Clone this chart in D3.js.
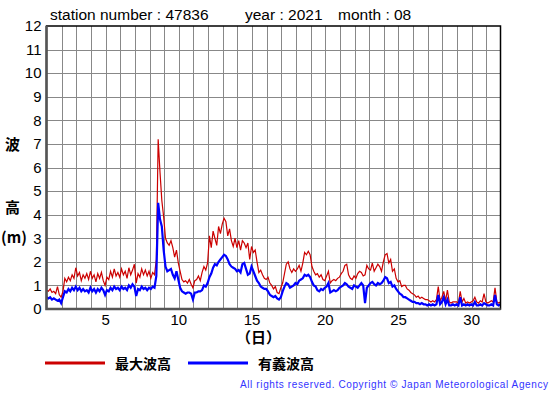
<!DOCTYPE html>
<html>
<head>
<meta charset="utf-8">
<script src="https://cdn.jsdelivr.net/npm/d3@7"></script>
<style>
  body { margin: 0; background: #fff; }
  text { font-family: 'Liberation Sans', Arial, sans-serif; }
  .jp { font-family: 'Noto Sans CJK JP', sans-serif; font-weight: bold; }
  .grid line { stroke: #888; stroke-width: 1; shape-rendering: crispEdges; }
  .axis path, .axis line { display: none; }
  .axis text { font-size: 15px; fill: #000; }
</style>
</head>
<body>
<div id="chart"></div>
<script>
// 3-hourly values, 8 per day, from day 1 00h to day 32 00h
let maxWave = [
  0.8, 0.75, 0.85, 0.7, 0.75, 0.65, 0.95, 0.6,
  0.5, 0.75, 1.3, 1.15, 1.35, 1.2, 1.45, 1.3,
  1.75, 1.4, 1.55, 1.2, 1.45, 1.3, 1.5, 1.25,
  1.6, 1.3, 1.45, 1.15, 1.5, 1.3, 1.55, 1.2,
  1.0, 1.35, 1.25, 1.6, 1.35, 1.7, 1.4, 1.55,
  1.35, 1.7, 1.45, 1.6, 1.3, 1.75, 1.45, 1.65,
  1.9, 1.1, 1.5, 1.35, 1.7, 1.45, 1.65, 1.4,
  1.6, 1.3, 1.55, 1.45, 2.1, 7.2, 5.8, 4.6,
  3.9, 3.0, 2.8, 2.7, 2.9, 2.6, 2.2, 2.5,
  1.95, 1.6, 1.25, 1.15, 1.2, 1.1, 1.25, 1.05,
  0.9, 1.2, 1.25, 1.4, 1.2, 1.55, 1.8, 1.65,
  1.95, 3.1, 2.6, 3.3, 3.0, 2.7, 3.5, 3.2,
  3.6, 3.85, 3.7, 3.1, 3.4, 2.9, 2.65, 3.0,
  2.6, 2.9, 2.5, 2.9, 2.8, 2.6, 2.8, 2.1,
  2.65, 2.4, 2.5, 2.0, 1.55, 1.65, 1.45, 1.3,
  1.25, 1.35, 1.1, 1.0, 0.85, 0.95, 0.7, 0.65,
  0.9, 1.1, 1.5, 1.9, 2.0, 1.7, 1.55, 1.7,
  1.6, 1.7, 1.85, 1.6, 1.95, 2.4, 2.3, 2.45,
  2.3, 1.8, 1.6, 1.45, 1.5, 1.35, 1.45, 1.25,
  1.2, 1.4, 1.6, 1.1, 1.2, 1.25, 1.2, 1.3,
  1.35, 1.5, 1.6, 1.85, 1.9, 1.45, 1.3, 1.25,
  1.4, 1.3, 1.5, 1.6, 1.55, 1.4, 1.45, 1.85,
  1.7, 1.65, 1.95, 1.6, 1.75, 1.9, 1.8, 1.6,
  2.0, 2.3, 2.35, 1.95, 2.1, 1.6, 1.7, 1.3,
  1.15, 1.2, 0.95, 1.0, 1.0, 0.85, 0.8, 0.7,
  0.65, 0.6, 0.5, 0.55, 0.45, 0.5, 0.45, 0.4,
  0.4, 0.35, 0.3, 0.35, 0.3, 0.4, 0.95, 0.35,
  0.5, 0.75, 0.35, 0.8, 0.3, 0.25, 0.3, 0.3,
  0.3, 0.25, 0.75, 0.3, 0.45, 0.25, 0.3, 0.25,
  0.3, 0.35, 0.5, 0.3, 0.25, 0.35, 0.3, 0.65,
  0.3, 0.25, 0.3, 0.35, 0.3, 0.9, 0.3, 0.25,
  0.3
]

let sigWave = [
  0.5, 0.45, 0.5, 0.4, 0.45, 0.4, 0.35, 0.4,
  0.25, 0.5, 0.75, 0.7, 0.85, 0.75, 0.9, 0.8,
  0.95, 0.8, 0.9, 0.75, 0.85, 0.75, 0.8, 0.7,
  0.9, 0.75, 0.85, 0.7, 0.85, 0.75, 0.9, 0.8,
  0.6, 0.8, 0.75, 0.9, 0.8, 0.95, 0.85, 0.9,
  0.8, 0.95, 0.85, 0.9, 0.8, 1.0, 0.9, 1.05,
  0.95, 0.55, 0.85, 0.8, 0.95, 0.85, 0.9, 0.8,
  0.9, 0.85, 0.95, 0.9, 1.4, 4.5, 3.8, 3.5,
  2.5, 1.8, 1.6, 1.65, 1.7, 1.45, 1.3, 1.6,
  1.25, 0.9, 0.75, 0.7, 0.65, 0.7, 0.7, 0.65,
  0.4, 0.7, 0.7, 0.75, 0.75, 0.8, 1.0, 0.95,
  1.1, 1.35, 1.5, 1.75, 1.9, 1.85, 2.0, 2.1,
  2.2, 2.3, 2.25, 2.1, 1.9, 1.8, 1.75, 1.7,
  1.6, 1.65, 1.55, 1.9, 1.95, 1.7, 1.45, 1.5,
  1.8, 1.6, 1.4, 1.2, 1.1, 0.95, 0.9, 0.85,
  0.85, 0.75, 0.6, 0.55, 0.5, 0.55, 0.45, 0.4,
  0.5, 0.75, 0.95, 1.1, 1.05, 0.9, 0.95, 1.0,
  1.1, 1.05, 1.2, 1.25, 1.3, 1.45, 1.4, 1.45,
  1.35, 1.15, 1.0, 0.95, 0.8, 0.75, 0.85, 0.8,
  0.9, 0.95, 1.1, 0.7, 0.75, 0.8, 0.75, 0.8,
  0.9, 0.95, 1.0, 1.1, 1.05, 0.95, 0.9, 0.85,
  1.0, 0.95, 0.9, 1.0, 1.1, 1.0, 0.25, 0.9,
  1.0, 1.1, 1.15, 1.05, 1.0, 1.1, 1.05, 1.1,
  1.2, 1.35, 1.3, 1.1, 1.15, 0.95, 1.0, 0.85,
  0.75, 0.65, 0.6, 0.5, 0.5, 0.45, 0.4, 0.35,
  0.3, 0.3, 0.25, 0.25, 0.2, 0.25, 0.2, 0.2,
  0.15, 0.2, 0.15, 0.2, 0.15, 0.2, 0.6, 0.2,
  0.3, 0.5, 0.2, 0.4, 0.15, 0.15, 0.2, 0.15,
  0.2, 0.15, 0.5, 0.15, 0.2, 0.15, 0.2, 0.15,
  0.2, 0.15, 0.3, 0.15, 0.15, 0.2, 0.15, 0.25,
  0.2, 0.15, 0.15, 0.2, 0.15, 0.6, 0.2, 0.15,
  0.2
]

let xTicks = [5, 10, 15, 20, 25, 30]
let yTicks = [0, 1, 2, 3, 4, 5, 6, 7, 8, 9, 10, 11, 12]
let seriesNames = ['最大波高', '有義波高']
let titleParts = ['station number : 47836', 'year : 2021', 'month : 08']

var margin = { top: 26, left: 46.5, right: 54.5, bottom: 86 }
var width = 555 - margin.left - margin.right
var height = 395 - margin.top - margin.bottom

var root = d3
  .select('#chart')
  .append('svg')
  .attr('width', 555)
  .attr('height', 395)

var svg = root
  .append('g')
  .attr('transform', `translate(${margin.left},${margin.top})`)

let xPositionScale = d3
  .scaleLinear()
  .domain([1, 32])
  .range([0, width])

let yPositionScale = d3
  .scaleLinear()
  .domain([0, 12])
  .range([height, 0])

/* Grid */
svg
  .append('g')
  .attr('class', 'grid')
  .selectAll('line.v')
  .data(d3.range(2, 32))
  .enter()
  .append('line')
  .attr('x1', d => Math.round(xPositionScale(d)) + 0.5)
  .attr('x2', d => Math.round(xPositionScale(d)) + 0.5)
  .attr('y1', 0)
  .attr('y2', height)

svg
  .select('.grid')
  .selectAll('line.h')
  .data(yTicks.slice(1, -1))
  .enter()
  .append('line')
  .attr('x1', 0)
  .attr('x2', width)
  .attr('y1', d => Math.round(yPositionScale(d)) + 0.5)
  .attr('y2', d => Math.round(yPositionScale(d)) + 0.5)

/* Data lines */
let line = d3
  .line()
  .x((d, i) => xPositionScale(1 + i / 8))
  .y(d => yPositionScale(d))

svg
  .append('path')
  .datum(maxWave)
  .attr('d', line)
  .attr('fill', 'none')
  .attr('stroke', '#cc0000')
  .attr('stroke-width', 1.2)

svg
  .append('path')
  .datum(sigWave)
  .attr('d', line)
  .attr('fill', 'none')
  .attr('stroke', '#0000ff')
  .attr('stroke-width', 2.2)

/* Frame */
svg
  .append('rect')
  .attr('x', 0)
  .attr('y', 0)
  .attr('width', width)
  .attr('height', height)
  .attr('fill', 'none')
  .attr('stroke', '#000')
  .attr('stroke-width', 1.5)

svg
  .append('path')
  .attr('d', `M0,0V${height}H${width}`)
  .attr('fill', 'none')
  .attr('stroke', '#555')
  .attr('stroke-width', 2.5)

/* Axes */
var xAxis = d3.axisBottom(xPositionScale).tickValues(xTicks).tickSize(0).tickPadding(5)
svg
  .append('g')
  .attr('class', 'axis x-axis')
  .attr('transform', 'translate(0,' + height + ')')
  .call(xAxis)

var yAxis = d3.axisLeft(yPositionScale).tickValues(yTicks).tickSize(0).tickPadding(5)
svg
  .append('g')
  .attr('class', 'axis y-axis')
  .call(yAxis)

/* Title */
root
  .selectAll('text.title')
  .data(titleParts)
  .enter()
  .append('text')
  .attr('class', 'title')
  .attr('x', (d, i) => [50, 245, 338][i])
  .attr('y', 20)
  .attr('font-size', 15.5)
  .text(d => d)

/* Axis labels */
root.append('text').attr('class', 'jp').attr('x', 5).attr('y', 150).attr('font-size', 15).text('波')
root.append('text').attr('class', 'jp').attr('x', 5).attr('y', 213).attr('font-size', 15).text('高')
root.append('text').attr('class', 'jp').attr('x', 1).attr('y', 243).attr('font-size', 15).text('(m)')
root.append('text').attr('class', 'jp').attr('x', 236).attr('y', 343).attr('font-size', 15).text('（日）')

/* Legend */
let legend = root
  .selectAll('g.legend')
  .data(seriesNames)
  .enter()
  .append('g')
  .attr('class', 'legend')
  .attr('transform', (d, i) => `translate(${45 + i * 143},363)`)

legend
  .append('line')
  .attr('x1', 0)
  .attr('x2', 60)
  .attr('stroke', (d, i) => (i === 0 ? '#cc0000' : '#0000ff'))
  .attr('stroke-width', 3)

legend
  .append('text')
  .attr('class', 'jp')
  .attr('x', 70)
  .attr('y', 6)
  .attr('font-size', 14)
  .text(d => d)

/* Footer */
root
  .append('text')
  .attr('x', 240)
  .attr('y', 388)
  .attr('font-size', 10)
  .attr('fill', '#3333ff')
  .attr('textLength', 308)
  .attr('lengthAdjust', 'spacing')
  .text('All rights reserved. Copyright © Japan Meteorological Agency')
</script>
</body>
</html>
